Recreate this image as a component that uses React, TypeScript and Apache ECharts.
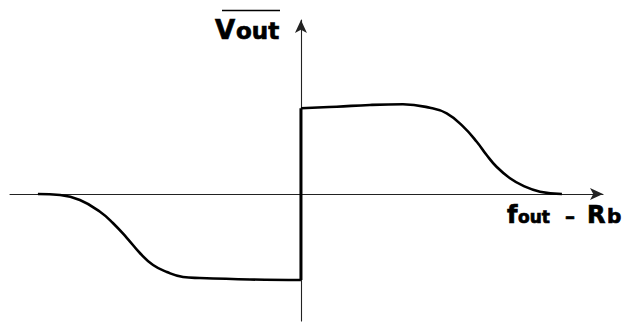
import React, { useEffect, useRef } from "react";
import * as echarts from "echarts";

// Conceptual response curve (arbitrary units): x = fout - Rb, y = mean Vout
const leftX = [-8.77, -8.03, -7.37, -6.7, -6.27, -5.8, -5.37, -4.93, -4.47, -3.93, -3.37, -1.7, 0];
const leftY = [0, -0.012, -0.07, -0.206, -0.337, -0.512, -0.686, -0.826, -0.907, -0.965, -0.977, -0.994, -1.0];
const jumpX = [0, 0];
const jumpY = [-1.0, 0.997];
const rightX = [0, 1.19, 2.3, 3.4, 4.3, 4.86, 5.41, 5.86, 6.19, 6.52, 6.97, 7.4, 7.97, 8.7];
const rightY = [0.997, 1.015, 1.035, 1.043, 1.003, 0.938, 0.783, 0.608, 0.453, 0.317, 0.183, 0.097, 0.027, 0];

const xRange = [-9.7, 10.07];
const yRange = [-1.4767, 2.0233];

const FONT = "DejaVu Sans";

function zip(xs: number[], ys: number[]) {
  return xs.map((x, i) => [x, ys[i]]);
}

export default function App() {
  const ref = useRef<HTMLDivElement>(null);
  useEffect(() => {
    if (!ref.current) return;
    const chart = echarts.init(ref.current, null, { renderer: "svg" });
    const lineStyle = { color: "#000", width: 2.6 };
    const txt = (text: string, x: number, y: number, size: number) => ({
      type: "text",
      x,
      y,
      style: {
        text,
        fill: "#000",
        stroke: "#000",
        lineWidth: 0.7,
        font: `bold ${size}px "${FONT}"`,
        align: "left",
        verticalAlign: "bottom",
      },
    });
    const axisLine = {
      onZero: true,
      lineStyle: { color: "#222", width: 1.1 },
      symbol: ["none", "arrow"],
      symbolSize: [9, 13],
    };
    chart.setOption({
      animation: false,
      backgroundColor: "#fff",
      grid: { left: 10, right: 24, top: 20, bottom: 1 },
      xAxis: {
        type: "value",
        min: xRange[0],
        max: xRange[1],
        axisLine,
        axisTick: { show: false },
        axisLabel: { show: false },
        splitLine: { show: false },
      },
      yAxis: {
        type: "value",
        min: yRange[0],
        max: yRange[1],
        axisLine,
        axisTick: { show: false },
        axisLabel: { show: false },
        splitLine: { show: false },
      },
      series: [
        { type: "line", data: zip(leftX, leftY), smooth: 0.45, showSymbol: false, lineStyle },
        { type: "line", data: zip(jumpX, jumpY), smooth: false, showSymbol: false, lineStyle: { color: "#000", width: 3 } },
        { type: "line", data: zip(rightX, rightY), smooth: 0.45, showSymbol: false, lineStyle },
      ],
      graphic: [
        txt("V", 215, 43, 26),
        txt("out", 236, 42.6, 23),
        { type: "line", shape: { x1: 222, y1: 10.5, x2: 280, y2: 10.5 }, style: { stroke: "#000", lineWidth: 1.5 } },
        txt("f", 507, 226.5, 24),
        txt("out", 518, 225, 17),
        txt("–", 565, 225.5, 20),
        txt("R", 587, 226.5, 24),
        txt("b", 607, 225.5, 20),
      ],
    });
    return () => chart.dispose();
  }, []);
  return (
    <div
      ref={ref}
      style={{ position: "fixed", left: 0, top: 0, width: 627, height: 322 }}
    />
  );
}
